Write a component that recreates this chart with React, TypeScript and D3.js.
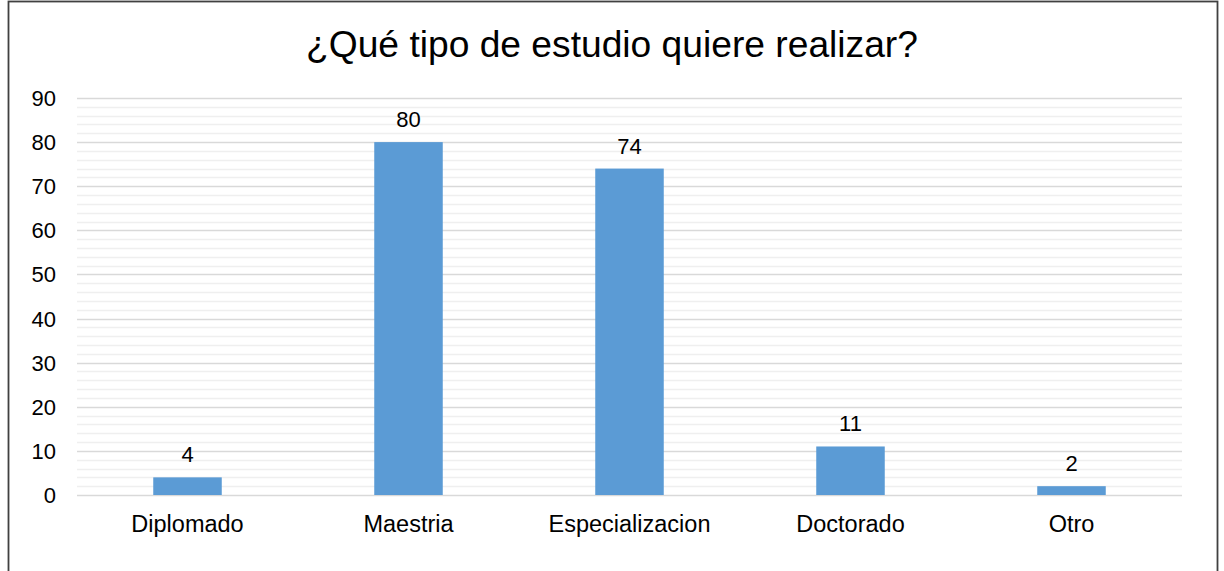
import React from "react";
import * as d3 from "d3";

const categories = ["Diplomado", "Maestria", "Especializacion", "Doctorado", "Otro"];
const values = [4, 80, 74, 11, 2];
const yTicks = [0, 10, 20, 30, 40, 50, 60, 70, 80, 90];
const minorTicks = d3.range(0, 91, 2);
const title = "¿Qué tipo de estudio quiere realizar?";

export default function App() {
  const W = 1224, H = 571;
  const left = 77, right = 1182, top = 98, bottom = 495;
  const x = d3.scaleBand<string>().domain(categories).range([left, right]).paddingInner(0.69).paddingOuter(0.345);
  const y = d3.scaleLinear().domain([0, 90]).range([bottom, top]);
  const font = "'Liberation Sans', Arial, sans-serif";
  return (
    <svg width={W} height={H} style={{ position: "absolute", left: 0, top: 0 }} fontFamily={font}>
      <rect x={0} y={0} width={W} height={H} fill="#fff" />
      <rect x={8.5} y={1.5} width={1209} height={H + 10} fill="none" stroke="#404040" strokeWidth={1.8} />
      <text x={612} y={57} textAnchor="middle" fontSize={37.2} fill="#000">{title}</text>
      {minorTicks.filter(t => t % 10 !== 0).map(t => (
        <line key={"m" + t} x1={left} x2={right} y1={Math.round(y(t)) + 0.5} y2={Math.round(y(t)) + 0.5} stroke="#efefef" strokeWidth={1.5} />
      ))}
      {yTicks.map(t => (
        <line key={"g" + t} x1={left} x2={right} y1={Math.round(y(t)) + 0.5} y2={Math.round(y(t)) + 0.5} stroke="#d9d9d9" strokeWidth={1.5} />
      ))}
      {yTicks.map(t => (
        <text key={"t" + t} x={56} y={y(t) + 8} textAnchor="end" fontSize={22} fill="#000">{t}</text>
      ))}
      {categories.map((c, i) => (
        <g key={c}>
          <rect x={x(c)} y={y(values[i])} width={x.bandwidth()} height={y(0) - y(values[i])} fill="#5B9BD5" />
          <text x={(x(c) ?? 0) + x.bandwidth() / 2} y={y(values[i]) - 15} textAnchor="middle" fontSize={22} fill="#000">{values[i]}</text>
          <text x={(x(c) ?? 0) + x.bandwidth() / 2} y={532} textAnchor="middle" fontSize={23.5} fill="#000">{c}</text>
        </g>
      ))}
    </svg>
  );
}
